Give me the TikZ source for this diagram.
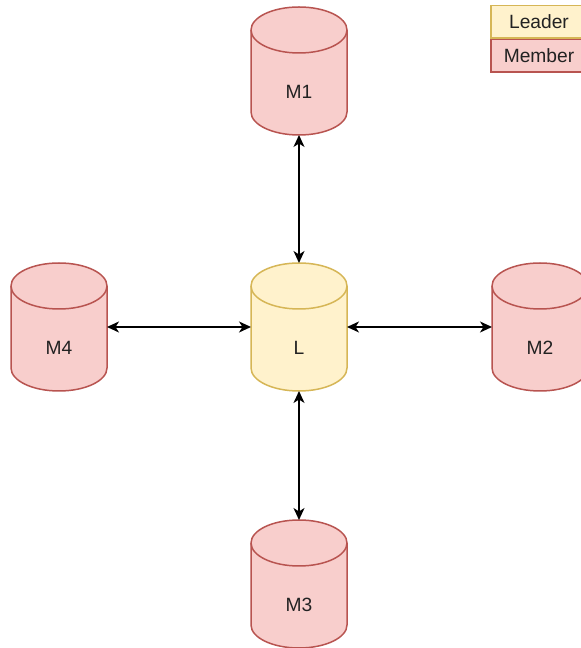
\documentclass[tikz,border=0pt]{standalone}
\usepackage{fontspec}
\setmainfont{Liberation Sans}
\usetikzlibrary{arrows.meta}

\definecolor{memfill}{HTML}{F8CECC}
\definecolor{memline}{HTML}{B85450}
\definecolor{leadfill}{HTML}{FFF2CC}
\definecolor{leadline}{HTML}{D6B656}
\definecolor{txt}{HTML}{222222}

% cylinder body: #1 centre x, #2 centre y, #3 fill, #4 stroke
\newcommand\dbcylinder[4]{%
  \path[fill=#3,draw=#4,line width=1.5pt,line join=round]
    (#1-48,#2+41) -- (#1-48,#2-41)
    arc[start angle=180,end angle=360,x radius=48,y radius=23]
    -- (#1+48,#2+41)
    arc[start angle=0,end angle=180,x radius=48,y radius=23] -- cycle;
  \draw[draw=#4,line width=1.5pt]
    (#1-48,#2+41) arc[start angle=180,end angle=360,x radius=48,y radius=23];
}

\begin{document}
\begin{tikzpicture}[x=1pt,y=1pt,
  every node/.style={font=\fontsize{19.2}{23}\selectfont,text=txt},
  cylbox/.style={minimum width=96pt,minimum height=128pt,inner sep=0pt,outer sep=0pt},
  cyltext/.style={inner sep=0pt},
  legendbox/.style={minimum width=96pt,minimum height=32.5pt,inner sep=0pt,line width=1.5pt},
  link/.style={line width=1.6pt,{Stealth[length=12pt,width=11pt,inset=3.5pt]}-{Stealth[length=12pt,width=11pt,inset=3.5pt]}}
]
\clip (0,0) rectangle (581,648);
\fill[white] (0,0) rectangle (581,648);

% database cylinders
\dbcylinder{299}{577}{memfill}{memline}
\dbcylinder{299}{321}{leadfill}{leadline}
\dbcylinder{59}{321}{memfill}{memline}
\dbcylinder{540}{321}{memfill}{memline}
\dbcylinder{299}{64}{memfill}{memline}

\node[cylbox] (m1) at (299,577) {};
\node[cylbox] (l)  at (299,321) {};
\node[cylbox] (m4) at (59,321) {};
\node[cylbox] (m2) at (540,321) {};
\node[cylbox] (m3) at (299,64) {};

\node[cyltext] (m1t) at ([yshift=-21pt]m1.center) {M1};
\node[cyltext] (lt)  at ([yshift=-21pt]l.center) {L};
\node[cyltext] (m4t) at ([yshift=-21pt]m4.center) {M4};
\node[cyltext] (m2t) at ([yshift=-21pt]m2.center) {M2};
\node[cyltext] (m3t) at ([yshift=-21pt]m3.center) {M3};

% links between the leader and each member
\draw[link] (m1.south) -- (l.north);
\draw[link] (l.south) -- (m3.north);
\draw[link] (m4.east) -- (l.west);
\draw[link] (l.east) -- (m2.west);

% legend
\node[legendbox,fill=leadfill,draw=leadline] (leader) at (539,626) {Leader};
\node[legendbox,fill=memfill,draw=memline,anchor=north] (member) at (leader.south) {Member};
\end{tikzpicture}
\end{document}
